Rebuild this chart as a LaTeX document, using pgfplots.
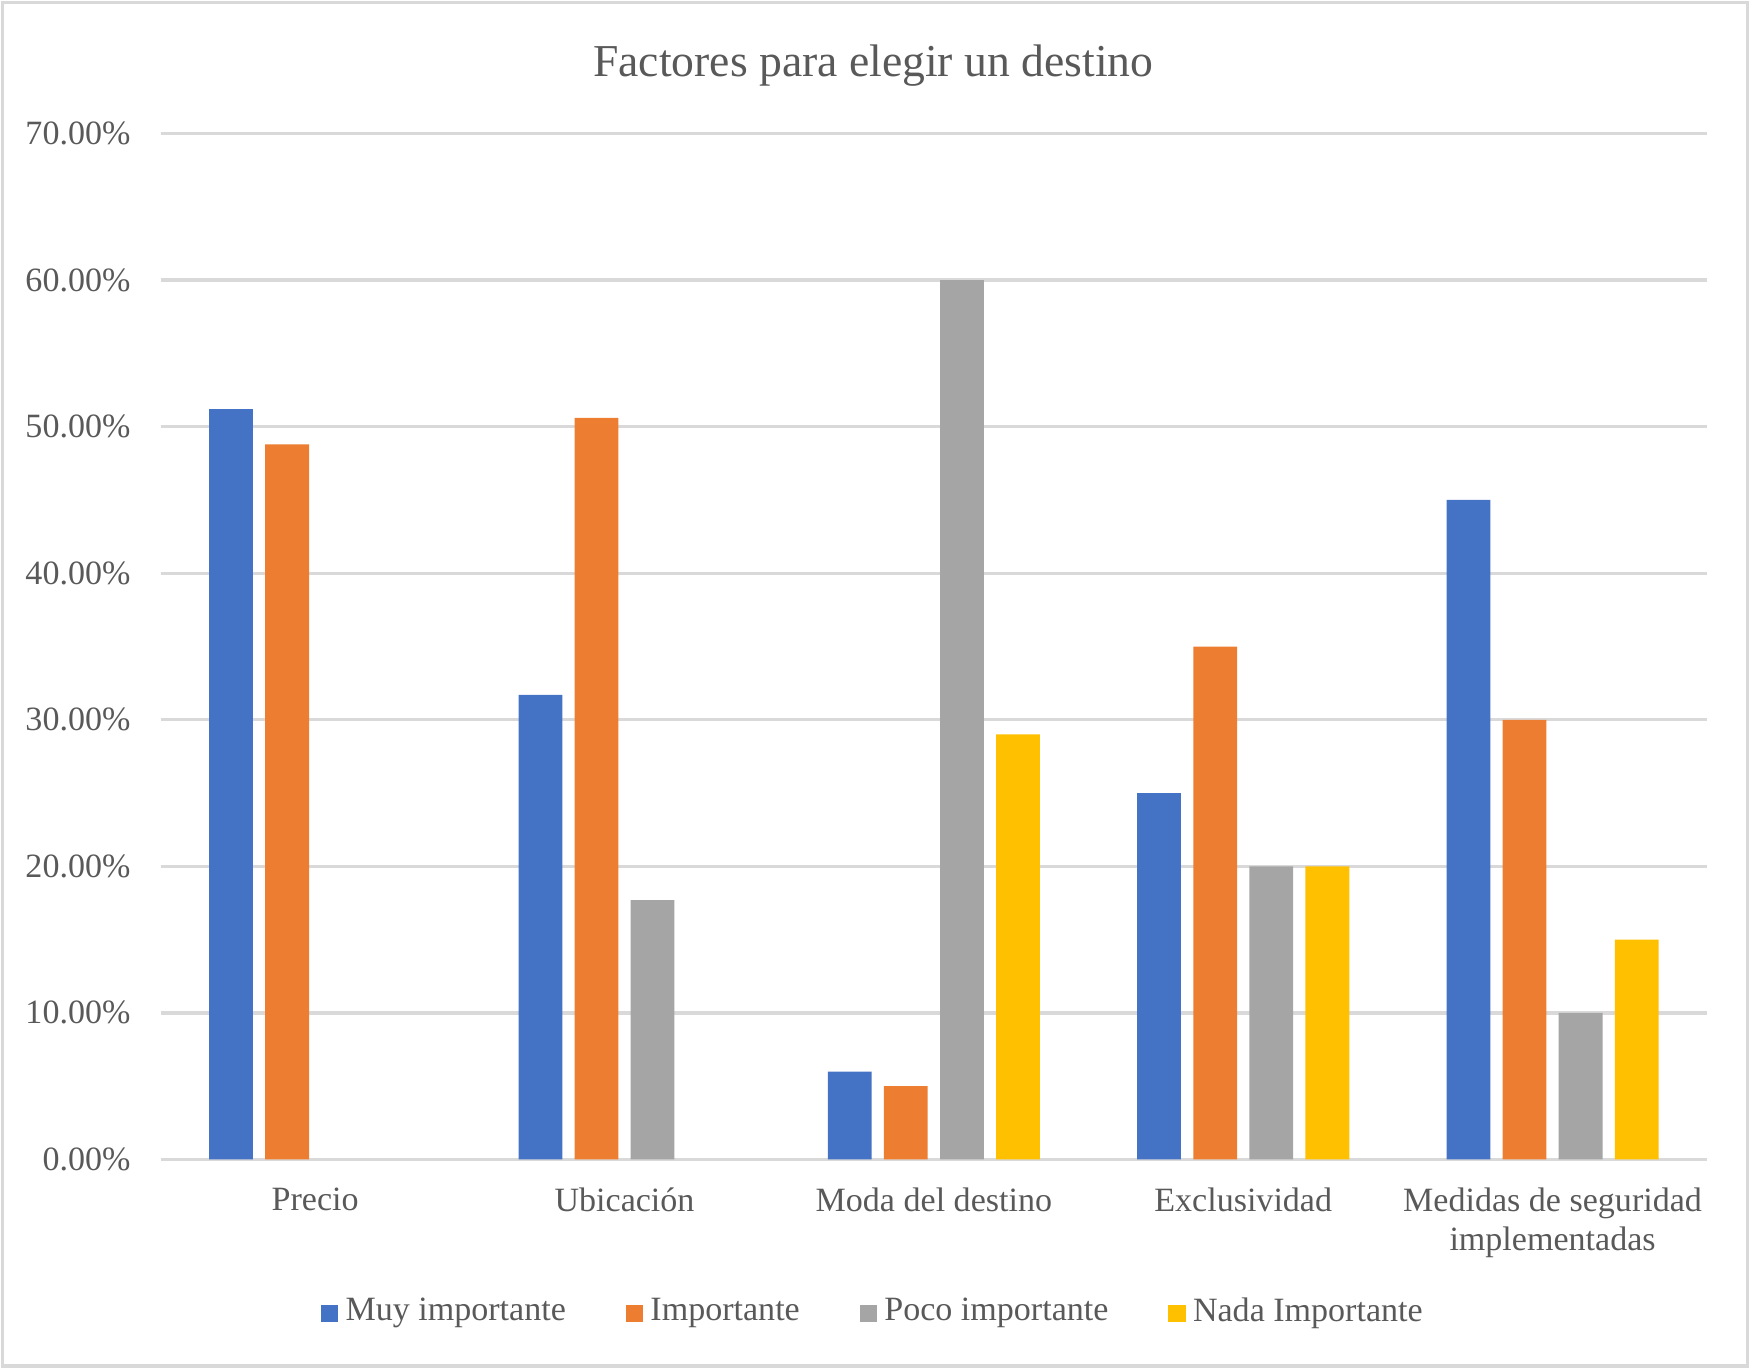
\documentclass[border=0pt]{standalone}
\usepackage{pgfplots}
\pgfplotsset{compat=1.18}
\usepackage{fontspec}
\setmainfont{Liberation Serif}
\definecolor{cblue}{HTML}{4472C4}
\definecolor{corange}{HTML}{ED7D31}
\definecolor{cgray}{HTML}{A5A5A5}
\definecolor{cyellow}{HTML}{FFC000}
\definecolor{gridgray}{HTML}{D9D9D9}
\definecolor{txt}{HTML}{595959}
\begin{document}
\begin{tikzpicture}
\path[use as bounding box] (0,0) rectangle (468pt,365.7pt);
\draw[gridgray, line width=0.9pt] (0.6pt,0.6pt) rectangle (467.1pt,365.1pt);
\node[text=txt, font=\fontsize{12.2}{14}\selectfont] at (233.4pt,348.2pt) {Factores para elegir un destino};
\begin{axis}[
  at={(42.9pt,55.8pt)}, anchor=south west,
  scale only axis, width=413.4pt, height=274.2pt,
  xmin=-0.5, xmax=4.5, ymin=0, ymax=70,
  xtick={0,1,2,3,4},
  xticklabels={Precio,Ubicación,Moda del destino,Exclusividad,{Medidas de seguridad\\implementadas}},
  ytick={0,10,20,30,40,50,60,70},
  yticklabel={\pgfmathprintnumber[fixed,fixed zerofill,precision=2]{\tick}\%},
  /pgf/number format/assume math mode=true,
  axis line style={draw=none},
  major tick length=0pt,
  ymajorgrids, major grid style={draw=gridgray, line width=0.9pt},
  tick label style={text=txt, font=\fontsize{9.1}{10.5}\selectfont},
  yticklabel style={anchor=east, xshift=-4.5pt},
  xticklabel style={align=center, anchor=north, yshift=-4pt},
  legend columns=4,
  legend style={at={(0.4623,-0.1488)}, anchor=center, draw=none, fill=none,
    font=\fontsize{9.1}{10.5}\selectfont, text=txt,
    /tikz/every even column/.append style={column sep=14pt}},
  legend image code/.code={\fill[#1] (0pt,-2.6pt) rectangle (4.6pt,2pt);},
  clip=false,
]
\addplot[ybar, bar width=0.1415, bar shift=-0.272, fill=cblue, draw=none]
  coordinates {(0,51.2) (1,31.7) (2,6) (3,25) (4,45)};
\addplot[ybar, bar width=0.1415, bar shift=-0.0907, fill=corange, draw=none]
  coordinates {(0,48.8) (1,50.6) (2,5) (3,35) (4,30)};
\addplot[ybar, bar width=0.1415, bar shift=0.0907, fill=cgray, draw=none]
  coordinates {(1,17.7) (2,60) (3,20) (4,10)};
\addplot[ybar, bar width=0.1415, bar shift=0.272, fill=cyellow, draw=none]
  coordinates {(2,29) (3,20) (4,15)};
\legend{Muy importante,Importante,Poco importante,Nada Importante}
\end{axis}
\end{tikzpicture}
\end{document}
